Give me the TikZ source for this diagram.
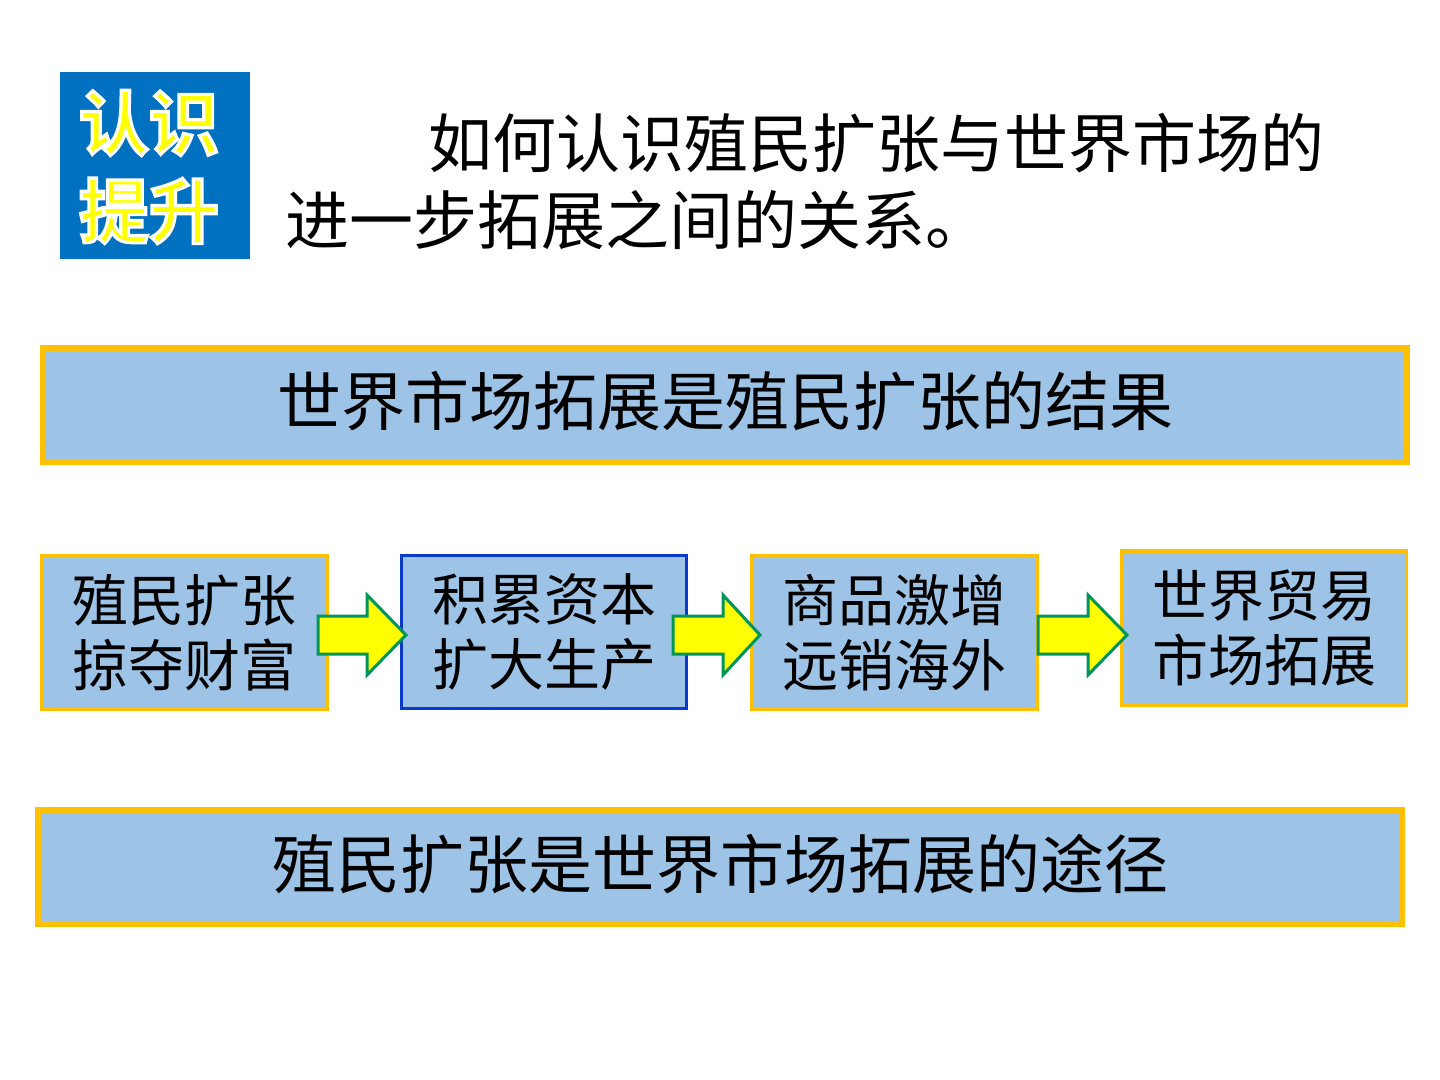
\documentclass[tikz,border=0pt]{standalone}
\usepackage{fontspec}
\setmainfont{Noto Sans CJK SC}
\newfontfamily\badgefont{Noto Sans CJK SC Bold}
\definecolor{boxfill}{HTML}{9DC3E6}
\definecolor{goldline}{HTML}{FFC000}
\definecolor{blueline}{HTML}{0A3ACC}
\definecolor{titleblue}{HTML}{0070C0}
\definecolor{arrowgreen}{HTML}{00965A}
\definecolor{arrowyellow}{HTML}{FFFF00}
\newcommand{\outlined}[1]{\special{pdf:literal direct 2 Tr 1 1 1 RG 1.6 w}#1\special{pdf:literal direct 0 Tr}}
\newcommand{\blockarrow}[4]{% left, head base, tip, center y
  \draw[blockarr] (#1,#4-19) -- (#2,#4-19) -- (#2,#4-40) -- (#3,#4) -- (#2,#4+40) -- (#2,#4+19) -- (#1,#4+19) -- cycle;}
\begin{document}
\begin{tikzpicture}[x=0.5pt,y=-0.5pt,
  bigbox/.style={draw=goldline, line width=3pt, fill=boxfill, inner sep=0pt,
    minimum width=682pt, minimum height=57pt, font=\fontsize{32pt}{38pt}\selectfont},
  stepbox/.style={draw=goldline, line width=1.6pt, fill=boxfill, inner sep=0pt,
    minimum width=142.5pt, minimum height=76.5pt, align=center,
    font=\fontsize{28pt}{32.5pt}\selectfont},
  blockarr/.style={draw=arrowgreen, line width=1.5pt, fill=arrowyellow, line join=miter},
  titletext/.style={anchor=west, inner sep=0pt, font=\fontsize{32pt}{38pt}\selectfont}]
\useasboundingbox (0,0) rectangle (1440,1080);
\fill[white] (0,0) rectangle (1440,1080);

% badge
\node[fill=titleblue, inner sep=0pt, minimum width=95pt, minimum height=93.5pt] (badge) at (155,165.5) {};
\node[inner sep=0pt, align=center, text=arrowyellow,
      font=\badgefont\fontsize{35pt}{44pt}\selectfont]
  (badgetext) at (149,167) {\outlined{认识}\\\outlined{提升}};

% question
\node[titletext] (q1) at (428,143) {如何认识殖民扩张与世界市场的};
\node[titletext] (q2) at (285,220) {进一步拓展之间的关系。};

% big boxes
\node[bigbox] (top) at (725,405) {\raisebox{7pt}{世界市场拓展是殖民扩张的结果}};
\node[bigbox] (bottom) at (720,867) {\raisebox{6pt}{殖民扩张是世界市场拓展的途径}};

% chain
\node[stepbox] (s1) at (184.5,632.5) {殖民扩张\\掠夺财富};
\node[stepbox, draw=blueline] (s2) at (544,632) {积累资本\\扩大生产};
\node[stepbox] (s3) at (894.5,632.5) {商品激增\\远销海外};
\node[stepbox, minimum height=77pt] (s4) at (1264,628) {世界贸易\\市场拓展};

\blockarrow{318}{367}{406}{635}
\blockarrow{673}{723}{760}{635}
\blockarrow{1038}{1088}{1127}{635}
\end{tikzpicture}
\end{document}
